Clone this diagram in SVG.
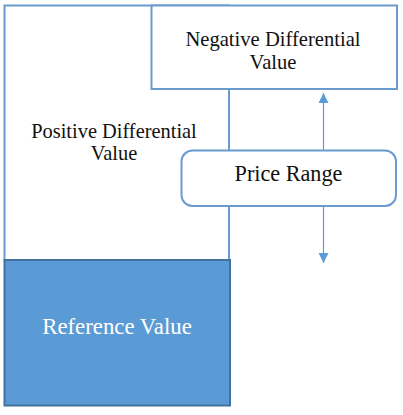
<svg xmlns="http://www.w3.org/2000/svg" width="403" height="415" viewBox="0 0 403 415">
<defs>
<style>
.box{fill:#fff;stroke:#6a9bcf;stroke-width:2}
.lbl{fill:#111;text-anchor:middle}
.conn{stroke:#5b9bd5;stroke-width:1.2;fill:none}
</style>
<marker id="ah" viewBox="0 0 10 10" refX="10" refY="5" markerWidth="10" markerHeight="10" markerUnits="userSpaceOnUse" orient="auto">
<path d="M0,0 L10,5 L0,10 z" fill="#5b9bd5"/>
</marker>
</defs>
<rect width="403" height="415" fill="#fff"/>
<g id="positive" font-family="Liberation Serif, serif">
<rect class="box" x="4.5" y="5.5" width="224.5" height="254.5"/>
<text class="lbl" x="114" y="138" font-size="20.4">Positive Differential</text>
<text class="lbl" x="114" y="160" font-size="20.4">Value</text>
</g>
<g id="negative" font-family="Liberation Serif, serif">
<rect class="box" x="151.5" y="5.5" width="245.5" height="83.5"/>
<text class="lbl" x="273" y="46" font-size="20.6">Negative Differential</text>
<text class="lbl" x="273" y="69" font-size="20.6">Value</text>
</g>
<g id="reference" font-family="Liberation Serif, serif">
<rect x="4.5" y="260" width="225.5" height="145.5" fill="#5b9bd5" stroke="#41719c" stroke-width="2"/>
<text class="lbl" x="117" y="334" font-size="22.8" style="fill:#fff">Reference Value</text>
</g>
<g id="connectors">
<line class="conn" x1="323.5" y1="150" x2="323.5" y2="93" marker-end="url(#ah)"/>
<line class="conn" x1="323.5" y1="206" x2="323.5" y2="263" marker-end="url(#ah)"/>
</g>
<g id="price-range" font-family="Liberation Serif, serif">
<rect class="box" x="181.5" y="150.5" width="214.5" height="55.5" rx="11"/>
<text class="lbl" x="288.5" y="181" font-size="22.2">Price Range</text>
</g>
</svg>
